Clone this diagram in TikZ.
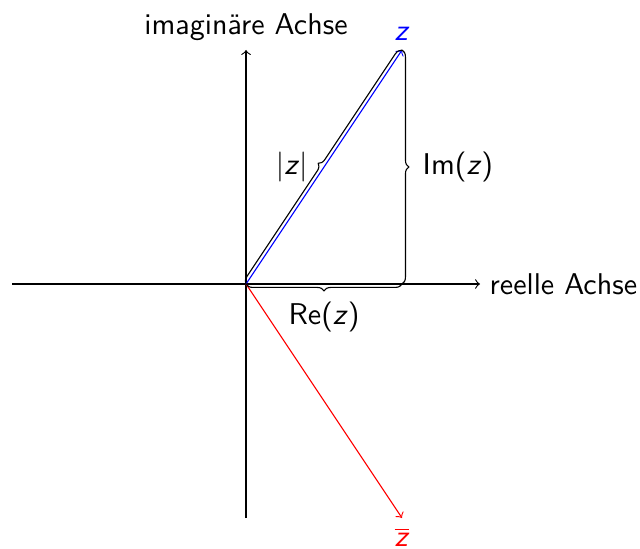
\documentclass[tikz,border=0pt]{standalone}
\usepackage{tikz}
\usetikzlibrary{arrows, decorations.pathreplacing, positioning}
\tikzstyle{axis}  = [->]
\tikzstyle{vec}   = [->]
\tikzstyle{curly} = [decorate, decoration={brace}]
\newcommand{\zvar}{\textit{z}}

\begin{document}
\begin{tikzpicture}[every node/.style={font=\fontsize{10.95pt}{13.6pt}\selectfont\sffamily}]
  \useasboundingbox (-3.154,-3.397) rectangle (5.051,3.641);

  % Points
  \coordinate (O)    at (0,0);
  \coordinate (z)    at (2,3);
  \coordinate (zbar) at (2,-3);
  \coordinate (re)   at (2,0);
  \coordinate (xmin) at (-3,0);
  \coordinate (xmax) at (3,0);
  \coordinate (ymin) at (0,-3);
  \coordinate (ymax) at (0,3);

  % Axes
  \draw[axis] (xmin) -- (xmax) node[right] {reelle Achse};
  \draw[axis] (ymin) -- (ymax) node[above] {imaginäre Achse};

  % z and its conjugate
  \draw[vec, blue] (O) -- (z) node[above] {\zvar};
  \draw[vec, red]  (O) -- (zbar) node[below] {$\overline{\mbox{\zvar}}$};

  % Braces
  \draw[curly] (O) -- (z) node[midway, left=2.5pt] {|\zvar|};
  \draw[curly] (z) -- (re) node[midway, right=4pt] {Im(\zvar)};
  \draw[curly] (re) -- (O) node[midway, below=3pt] {Re(\zvar)};

\end{tikzpicture}
\end{document}
